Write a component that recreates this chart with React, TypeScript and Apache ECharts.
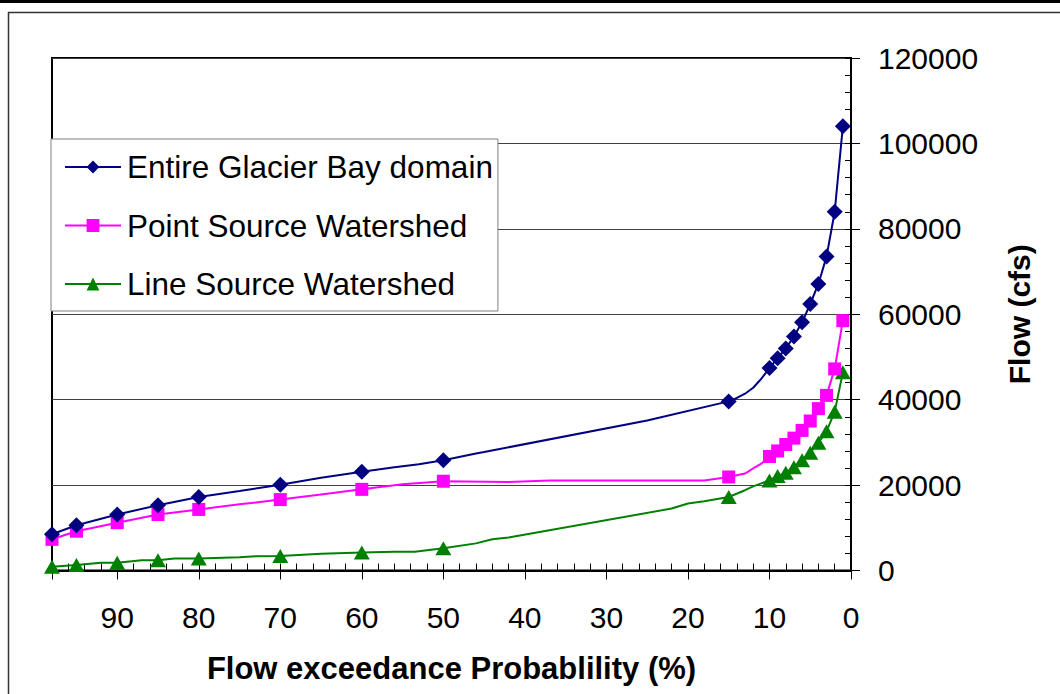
import React, { useEffect, useRef } from "react";
import * as echarts from "echarts";

const FONT = "'Liberation Sans', Arial, Helvetica, sans-serif";

// Exceedance probabilities (%) where markers are drawn
const markerExceedance = [98, 95, 90, 85, 80, 70, 60, 50, 15, 10, 9, 8, 7, 6, 5, 4, 3, 2, 1];

// Flow (cfs) at the marker points
const entireFlow = [8500, 10600, 13100, 15300, 17200, 20100, 23100, 25800, 39600, 47400, 49700, 52000, 54800, 58100, 62400, 67100, 73500, 84000, 104000];
const pointFlow = [7300, 9200, 11200, 13100, 14300, 16600, 19000, 20900, 21900, 26700, 28000, 29500, 31000, 32800, 35000, 37900, 41000, 47200, 58500];
const lineFlow = [900, 1300, 1800, 2400, 2800, 3400, 4200, 5200, 17200, 21100, 22100, 22900, 24200, 25800, 27600, 29900, 32600, 37200, 46400];

// Intermediate (marker-less) points of each line: [exceedance, flow]
const entireBends = [[75, 18600], [65, 21700], [56, 24200], [53, 24900], [46, 27400], [45, 27750], [25, 35140], [14, 40400], [13, 41400], [12, 42800], [11, 44900]];
const pointBends = [[75, 15500], [65, 17800], [55, 20200], [42, 20750], [37, 21100], [18, 21100], [13, 22700], [12, 23900], [11, 25000]];
const lineBends = [[92, 1800], [87, 2400], [83, 2800], [75, 3100], [73, 3350], [65, 3900], [56, 4400], [53.5, 4400], [46, 6350], [44, 7300], [42, 7750], [22, 14500], [20, 15700], [18, 16200], [13, 18800], [12, 19700], [11, 20400]];

const seriesNames = ["Entire Glacier Bay domain", "Point Source Watershed", "Line Source Watershed"];
const xTickLabels = [90, 80, 70, 60, 50, 40, 30, 20, 10, 0];
const yTickLabels = [0, 20000, 40000, 60000, 80000, 100000, 120000];

function buildData(flows: number[], bends: number[][]) {
  const pts: any[] = markerExceedance.map((x, i) => ({ value: [x, flows[i]] }));
  const extra = bends.map(([x, y]) => ({ value: [x, y], symbol: "none" }));
  return [...pts, ...extra].sort((a, b) => b.value[0] - a.value[0]);
}

export default function App() {
  const ref = useRef<HTMLDivElement>(null);
  useEffect(() => {
    if (!ref.current) return;
    const chart = echarts.init(ref.current, null, { renderer: "svg" });
    const colors = ["#000080", "#FF00FF", "#008000"];
    const symbols = ["diamond", "rect", "triangle"];
    const sizes: any[] = [16, 13, [16, 14]];
    const datas = [
      buildData(entireFlow, entireBends),
      buildData(pointFlow, pointBends),
      buildData(lineFlow, lineBends),
    ];
    const option: any = {
      animation: false,
      textStyle: { fontFamily: FONT },
      grid: {
        left: 52,
        top: 58,
        right: 1060 - 851,
        bottom: 694 - 570.5,
        show: true,
        borderColor: "#000",
        borderWidth: 2,
        containLabel: false,
      },
      legend: {
        orient: "vertical",
        left: 51,
        top: 139,
        padding: [10, 5, 9, 13],
        itemWidth: 56,
        itemHeight: 16,
        itemGap: 22.5,
        backgroundColor: "#fff",
        borderColor: "#808080",
        borderWidth: 1,
        textStyle: { fontSize: 31.5, color: "#000", fontFamily: FONT, lineHeight: 36, padding: [0, 0, 0, 1] },
        data: seriesNames,
      },
      xAxis: [
        {
          type: "value",
          min: 0,
          max: 98,
          interval: 10,
          inverse: true,
          position: "bottom",
          axisLine: { show: true, lineStyle: { color: "#000", width: 2 } },
          axisTick: { show: true, inside: false, length: 9, lineStyle: { color: "#000", width: 1 } },
          axisLabel: {
            fontSize: 30,
            color: "#000",
            margin: 32,
            fontFamily: FONT,
            formatter: (v: number) => (xTickLabels.includes(v) ? String(v) : ""),
          },
          splitLine: { show: false },
          name: "Flow exceedance Probablility (%)",
          nameLocation: "middle",
          nameGap: 82,
          nameTextStyle: { fontSize: 31, fontWeight: "bold", color: "#000", fontFamily: FONT },
        },
        {
          type: "value",
          min: 0,
          max: 98,
          interval: 2,
          inverse: true,
          position: "bottom",
          axisLine: { show: false },
          axisTick: { show: true, inside: true, length: 7, lineStyle: { color: "#000", width: 1 } },
          axisLabel: { show: false },
          splitLine: { show: false },
        },
      ],
      yAxis: [
        {
          type: "value",
          min: 0,
          max: 120000,
          interval: 20000,
          position: "right",
          axisLine: { show: true, lineStyle: { color: "#000", width: 2 } },
          axisTick: { show: true, inside: false, length: 9, lineStyle: { color: "#000", width: 1 } },
          axisLabel: {
            fontSize: 30,
            color: "#000",
            margin: 27,
            fontFamily: FONT,
            formatter: (v: number) => (yTickLabels.includes(v) ? String(v) : ""),
          },
          splitLine: { show: true, lineStyle: { color: "#404040", width: 1 } },
          name: "Flow (cfs)",
          nameLocation: "middle",
          nameGap: 153,
          nameTextStyle: { fontSize: 30, fontWeight: "bold", color: "#000", fontFamily: FONT },
        },
        {
          type: "value",
          min: 0,
          max: 120000,
          interval: 4000,
          position: "right",
          axisLine: { show: false },
          axisTick: { show: true, inside: true, length: 6, lineStyle: { color: "#000", width: 1 } },
          axisLabel: { show: false },
          splitLine: { show: false },
        },
      ],
      graphic: [
        { type: "rect", silent: true, shape: { x: 0, y: 0, width: 1060, height: 3 }, style: { fill: "#000" } },
        {
          type: "rect",
          silent: true,
          shape: { x: 8.5, y: 12.5, width: 1100, height: 800 },
          style: { fill: "none", stroke: "#333", lineWidth: 1.5 },
        },
      ],
      series: seriesNames.map((name, i) => ({
        name,
        type: "line",
        xAxisIndex: 0,
        yAxisIndex: 0,
        data: datas[i],
        symbol: symbols[i],
        symbolSize: sizes[i],
        showAllSymbol: true,
        lineStyle: { color: colors[i], width: 2 },
        itemStyle: { color: colors[i] },
        z: 3 - i + 2,
      })),
    };
    chart.setOption(option);
    return () => chart.dispose();
  }, []);
  return (
    <div
      ref={ref}
      style={{ position: "absolute", left: 0, top: 0, width: 1060, height: 694, background: "#fff" }}
    />
  );
}
